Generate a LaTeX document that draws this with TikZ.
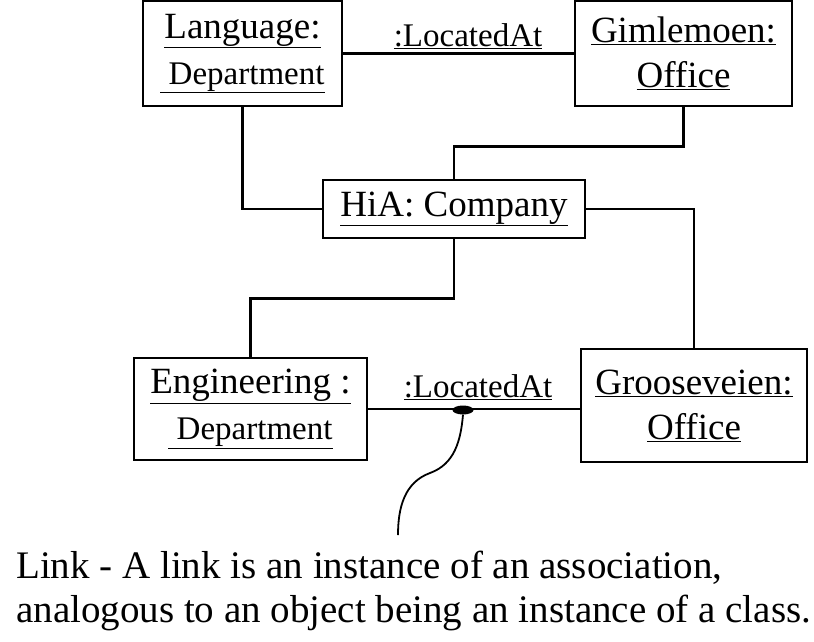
\documentclass[tikz,border=0pt]{standalone}
\usepackage{fontspec}
\setmainfont{Liberation Serif}
\usepackage{tikz}
\usetikzlibrary{positioning,calc,shapes.geometric}

\newcommand{\objfont}{\fontsize{37}{42}\selectfont}
\newcommand{\subfont}{\fontsize{33}{42}\selectfont}

\tikzset{
  obj/.style={draw, line width=2.6pt, align=center, inner sep=0pt, font=\objfont},
  lnk/.style={line width=2.4pt},
  lbl/.style={font=\subfont, inner sep=0pt},
  linkdot/.style={ellipse, fill=black, minimum width=21pt, minimum height=9pt, inner sep=0pt}
}

\begin{document}
\begin{tikzpicture}[x=1pt,y=-1pt]
  \useasboundingbox (0,0) rectangle (814,641);

  % objects
  \node[obj, minimum width=199pt, minimum height=105pt] (lang) at (242.5,53.5)
    {\underline{Language:}\\[4pt] {\subfont\underline{\ Department}}};
  \node[obj, minimum width=217pt, minimum height=105pt] (gim) at (683.5,53.5)
    {\underline{Gimlemoen:}\\[3pt] \underline{Office}};
  \node[obj, minimum width=262pt, minimum height=58pt] (hia) at (454,209)
    {\underline{HiA: Company}};
  \node[obj, minimum width=233pt, minimum height=102pt] (eng) at (250.5,409)
    {\underline{Engineering :}\\[4pt] {\subfont\underline{\ Department}}};
  \node[obj, minimum width=226pt, minimum height=113pt] (groo) at (694,405.5)
    {\underline{Grooseveien:}\\[3pt] \underline{Office}};

  % links
  \draw[lnk] (lang) -- (gim);
  \node[lbl] (lab1) at (468,36) {\underline{:LocatedAt}};
  \draw[lnk] (lang.south) |- (hia.west);
  \draw[lnk] (gim.south) -- ++(0,39) -| (hia.north);
  \draw[lnk] (hia.east) -| (groo.north);
  \draw[lnk] (hia.south) -- ++(0,59) -| (eng.north);
  \draw[lnk] (eng.east) -- (eng.east -| groo.west);
  \node[lbl] (lab2) at (478,387) {\underline{:LocatedAt}};

  % note
  \node[linkdot] (dot) at (463,410) {};
  \coordinate (bend) at (430,473);
  \coordinate (pin) at (398,535);
  \draw[line width=1.8pt] (dot.south) to[out=-95,in=20] (bend) to[out=200,in=90] (pin);
  \node[anchor=north west, align=left, inner sep=0pt, font=\fontsize{39}{44}\selectfont] (note) at (16,551)
    {Link - A link is an instance of an association,\\
     analogous to an object being an instance of a class.};
\end{tikzpicture}
\end{document}
